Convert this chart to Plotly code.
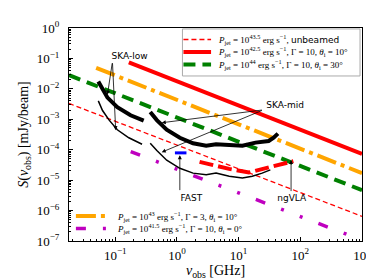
import plotly.graph_objects as go
import math

# ---------------- data ----------------
# model power-law spectra (endpoints, GHz / mJy per beam)
nu_unbeamed = [0.0178, 1000]
S_unbeamed = [3.31e-3, 6.46e-7]
nu_g10_t10 = [0.166, 1000]
S_g10_t10 = [7.41e-2, 7.24e-5]
nu_g10_t30 = [0.0178, 1000]
S_g10_t30 = [2.82e-2, 4.68e-6]
nu_g3_t10 = [0.049, 1000]
S_g3_t10 = [4.9e-2, 1.70e-5]
nu_g10_t0 = [0.178, 832]
S_g10_t0 = [8.7e-5, 1.23e-7]

# instrument sensitivities
nu_skalow_thick = [0.0531, 0.0622, 0.0748, 0.108, 0.177, 0.289]
S_skalow_thick = [1.73e-2, 9.44e-3, 5.15e-3, 2.49e-3, 1.35e-3, 8.97e-4]
nu_skalow_thin = [0.0531, 0.0622, 0.0796, 0.108, 0.166, 0.272]
S_skalow_thin = [4.02e-3, 1.94e-3, 9.38e-4, 4.52e-4, 2.47e-4, 1.51e-4]
nu_skamid_thick = [0.369, 0.472, 0.682, 1.114, 1.824, 2.979, 4.305, 7.031, 11.51, 18.79, 30.69, 36.90, 43.35]
S_skamid_thick = [1.73e-3, 9.38e-4, 4.52e-4, 2.47e-4, 1.63e-4, 1.35e-4, 1.51e-4, 1.41e-4, 1.35e-4, 1.71e-4, 1.94e-4, 2.47e-4, 3.37e-4]
nu_skamid_thin = [0.369, 0.472, 0.682, 1.114, 1.824, 2.979, 4.305, 7.031, 11.51, 16.63, 24.04, 32.66]
S_skamid_thin = [1.63e-4, 9.38e-5, 4.52e-5, 2.45e-5, 1.70e-5, 1.51e-5, 1.70e-5, 1.34e-5, 1.18e-5, 1.34e-5, 1.70e-5, 2.18e-5]
nu_ngvla = [2.328, 3.811, 7.031, 14.69, 24.04, 39.26, 77.09]
S_ngvla = [3.99e-5, 3.14e-5, 2.34e-5, 1.79e-5, 2.34e-5, 2.99e-5, 4.20e-5]
nu_fast = [0.927, 1.426]
S_fast = [7.87e-5, 7.87e-5]

# instrument labels
label_text = ["SKA-low", "SKA-mid", "FAST", "ngVLA"]
label_nu = [0.171, 56.7, 1.71, 72.6]
label_S = [0.112, 2.73e-3, 2.4e-6, 2.5e-6]

x_tickvals = [0.1, 1, 10, 100, 1000]
x_ticktext = ["10<sup>−1</sup>", "10<sup>0</sup>", "10<sup>1</sup>", "10<sup>2</sup>", "10<sup>3</sup>"]
y_tickvals = [1e-7, 1e-6, 1e-5, 1e-4, 1e-3, 1e-2, 1e-1, 1]
y_ticktext = ["10<sup>−7</sup>", "10<sup>−6</sup>", "10<sup>−5</sup>", "10<sup>−4</sup>",
              "10<sup>−3</sup>", "10<sup>−2</sup>", "10<sup>−1</sup>", "10<sup>0</sup>"]

leg_labels = [
    "<i>P</i><sub>jet</sub> = 10<sup>43.5</sup> erg s<sup>−1</sup>, <span style='font-family:DejaVu Sans'>unbeamed</span>",
    "<i>P</i><sub>jet</sub> = 10<sup>42.5</sup> erg s<sup>−1</sup>, Γ = 10, <i>θ</i><sub>i</sub> = 10°",
    "<i>P</i><sub>jet</sub> = 10<sup>44</sup> erg s<sup>−1</sup>, Γ = 10, <i>θ</i><sub>i</sub> = 30°",
    "<i>P</i><sub>jet</sub> = 10<sup>43</sup> erg s<sup>−1</sup>, Γ = 3, <i>θ</i><sub>i</sub> = 10°",
    "<i>P</i><sub>jet</sub> = 10<sup>41.5</sup> erg s<sup>−1</sup>, Γ = 10, <i>θ</i><sub>i</sub> = 0°",
]

# ---------------- styles ----------------
RED, GREEN, ORANGE, MAG, BLUE = "#ff0000", "#008000", "#ffa500", "#bf00bf", "#0000ff"
sty_unbeamed = dict(color=RED, width=1.3, dash="5px,3px")
sty_t10 = dict(color=RED, width=4)
sty_t30 = dict(color=GREEN, width=4, dash="12px,7px")
sty_g3 = dict(color=ORANGE, width=4, dash="20px,5px,4px,5px")
sty_t0 = dict(color=MAG, width=3.5, dash="10px,17px,3px,17px,3px,17px")

SERIF = "Liberation Serif"
SANS = "DejaVu Sans"

fig = go.Figure()

def add(x, y, line):
    fig.add_trace(go.Scatter(x=x, y=y, mode="lines", line=line, showlegend=False, hoverinfo="skip"))

add(nu_unbeamed, S_unbeamed, sty_unbeamed)
add(nu_g10_t10, S_g10_t10, sty_t10)
add(nu_g10_t30, S_g10_t30, sty_t30)
add(nu_g3_t10, S_g3_t10, sty_g3)
add(nu_g10_t0, S_g10_t0, sty_t0)
add(nu_skalow_thick, S_skalow_thick, dict(color="black", width=4))
add(nu_skalow_thin, S_skalow_thin, dict(color="black", width=1.5))
add(nu_skamid_thick, S_skamid_thick, dict(color="black", width=4))
add(nu_skamid_thin, S_skamid_thin, dict(color="black", width=1.5))
add(nu_ngvla, S_ngvla, dict(color=RED, width=4, dash="14px,5px"))
add(nu_fast, S_fast, dict(color=BLUE, width=3))

fig.add_trace(go.Scatter(x=label_nu, y=label_S, mode="text", text=label_text, textposition="middle center",
                         textfont=dict(family=SANS, size=9, color="black"), showlegend=False, hoverinfo="skip"))

# ---------------- layout geometry ----------------
W, H = 374, 279
L, R, T, B = 61, 16, 11, 46
PW, PH = W - L - R, H - T - B

def px(xp):
    return (xp - L) / PW

def py(yp):
    return (H - B - yp) / PH

ann = []

def arrow(x0, y0, x1, y1):
    ann.append(dict(text="", x=math.log10(x1), y=math.log10(y1), ax=math.log10(x0), ay=math.log10(y0),
                    xref="x", yref="y", axref="x", ayref="y", showarrow=True,
                    arrowhead=2, arrowsize=1, arrowwidth=0.8, arrowcolor="black", standoff=0, startstandoff=0))

arrow(0.090, 0.078, 0.0748, 6.5e-3)
arrow(0.090, 0.078, 0.1016, 4.4e-4)
arrow(25.2, 2.04e-3, 0.567, 7.7e-4)
arrow(25.2, 2.04e-3, 0.567, 8.3e-5)
arrow(1.114, 4.2e-6, 1.114, 6.6e-5)
arrow(70.8, 3.9e-6, 70.8, 4.6e-5)

shapes = []
# legend 1 frame
shapes.append(dict(type="rect", xref="paper", yref="paper", x0=px(176), x1=px(356), y0=py(61), y1=py(12),
                   line=dict(color="#aaaaaa", width=1), fillcolor="rgba(255,255,255,0.8)", layer="above"))
leg1 = [(sty_unbeamed, 23), (sty_t10, 36), (sty_t30, 49)]
for i, (st, yy) in enumerate(leg1):
    shapes.append(dict(type="line", xref="paper", yref="paper", x0=px(177), x1=px(205), y0=py(yy), y1=py(yy),
                       line=st, layer="above"))
    ann.append(dict(text=leg_labels[i], xref="paper", yref="paper", x=px(210), y=py(yy), xanchor="left",
                    yanchor="middle", showarrow=False, font=dict(family=SERIF, size=9, color="black")))
leg2 = [(sty_g3, 207), (sty_t0, 220)]
for j, (st, yy) in enumerate(leg2):
    shapes.append(dict(type="line", xref="paper", yref="paper", x0=px(68), x1=px(99), y0=py(yy), y1=py(yy),
                       line=st, layer="above"))
    ann.append(dict(text=leg_labels[3 + j], xref="paper", yref="paper", x=px(108), y=py(yy), xanchor="left",
                    yanchor="middle", showarrow=False, font=dict(family=SERIF, size=9, color="black")))

# minor tick positions
x_minor = [m * 10 ** e for e in range(-2, 3) for m in range(2, 10)]
y_minor = [m * 10 ** e for e in range(-7, 0) for m in range(2, 10)]

axis_common = dict(type="log", showgrid=False, zeroline=False, showline=True, linecolor="black", linewidth=1,
                   mirror=True, ticks="inside", ticklen=4, tickwidth=0.8, tickcolor="black",
                   tickfont=dict(family=SERIF, size=13, color="black"))

fig.update_layout(
    width=W, height=H, margin=dict(l=L, r=R, t=T, b=B),
    paper_bgcolor="white", plot_bgcolor="white", showlegend=False,
    xaxis=dict(axis_common, range=[-1.75, 3], tickmode="array", tickvals=x_tickvals, ticktext=x_ticktext,
               ticklabelstandoff=2,
               minor=dict(tickmode="array", tickvals=x_minor, ticks="inside", ticklen=2, tickcolor="black"),
               title=dict(text="<i>ν</i><sub>obs</sub> [GHz]", font=dict(family=SERIF, size=14, color="black"),
                          standoff=0)),
    yaxis=dict(axis_common, range=[-7, 0], tickmode="array", tickvals=y_tickvals, ticktext=y_ticktext,
               ticklabelstandoff=6,
               minor=dict(tickmode="array", tickvals=y_minor, ticks="inside", ticklen=2, tickcolor="black"),
               title=dict(text="<i>S</i>(<i>ν</i><sub>obs</sub>) [mJy/beam]",
                          font=dict(family=SERIF, size=14, color="black"), standoff=4)),
    annotations=ann, shapes=shapes,
)

fig.write_html("out.html")
